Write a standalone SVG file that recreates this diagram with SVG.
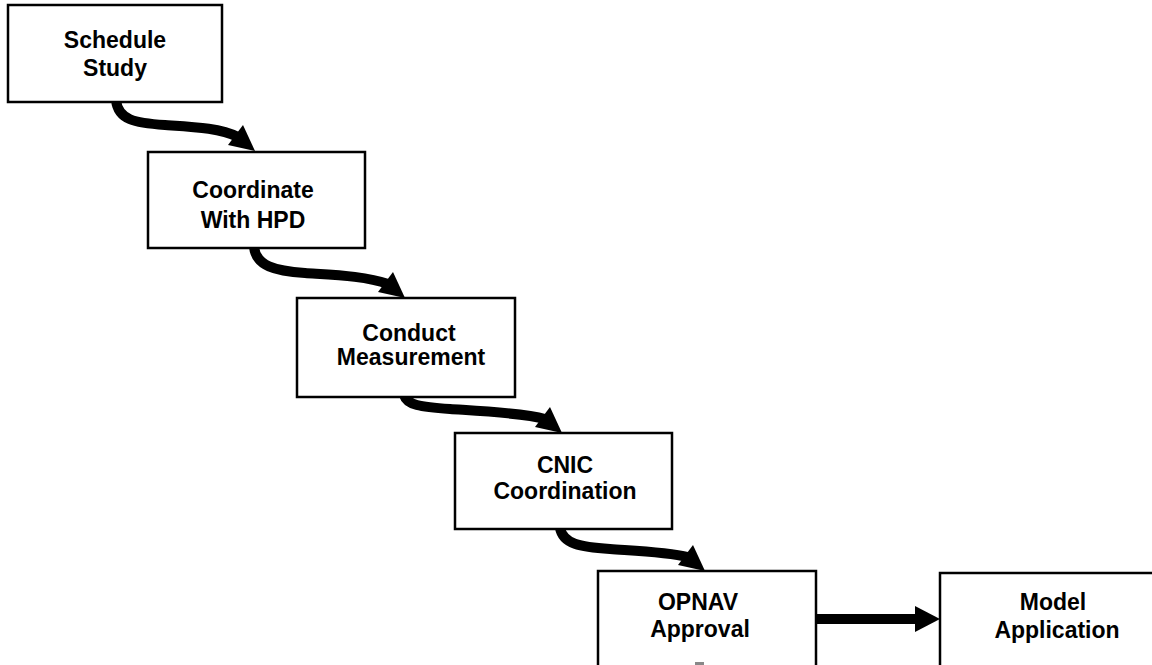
<svg xmlns="http://www.w3.org/2000/svg" xmlns:xlink="http://www.w3.org/1999/xlink" width="1152" height="665" viewBox="0 0 1152 665">
  <style>
    .box { fill: #ffffff; stroke: #000000; stroke-width: 2.5; }
    .lbl { font-family: "Liberation Sans", Arial, Helvetica, sans-serif; font-weight: bold; font-size: 23px; fill: #000000; text-anchor: middle; }
    .shaft { fill: none; stroke: #000000; stroke-width: 10; stroke-linecap: butt; }
    .head { fill: #000000; stroke: none; }
  </style>
  <defs>
    <path id="curvedHead" d="M0,0 L-12,-26 L-27,-6 Z"/>
  </defs>
  <rect x="0" y="0" width="1152" height="665" fill="#ffffff"/>

  <g id="connectors">
    <path class="shaft" d="M116,100 C118,120 135,123 165,125 S220,128 238,137"/>
    <use xlink:href="#curvedHead" class="head" transform="translate(255,151)"/>

    <path class="shaft" d="M254,247 C256,266 275,271 305,273 S366,276 388,284"/>
    <use xlink:href="#curvedHead" class="head" transform="translate(405,298)"/>

    <path class="shaft" d="M404,395 C407,405 420,407 450,409 S523,413 545,419"/>
    <use xlink:href="#curvedHead" class="head" transform="translate(562,433)"/>

    <path class="shaft" d="M560,528 C563,544 580,547 610,549 S668,552 688,557"/>
    <use xlink:href="#curvedHead" class="head" transform="translate(705,571)"/>

    <path class="shaft" d="M816,619 L918,619"/>
    <path class="head" d="M915,606 L940,619 L915,632 Z"/>
  </g>

  <g id="node-schedule-study">
    <rect class="box" x="8" y="5" width="214" height="97"/>
    <text class="lbl" x="115" y="48">Schedule</text>
    <text class="lbl" x="115" y="76">Study</text>
  </g>

  <g id="node-coordinate-hpd">
    <rect class="box" x="148" y="152" width="217" height="96"/>
    <text class="lbl" x="253" y="198">Coordinate</text>
    <text class="lbl" x="253" y="228">With HPD</text>
  </g>

  <g id="node-conduct-measurement">
    <rect class="box" x="297" y="298" width="218" height="99"/>
    <text class="lbl" x="409" y="341">Conduct</text>
    <text class="lbl" x="411" y="365">Measurement</text>
  </g>

  <g id="node-cnic-coordination">
    <rect class="box" x="455" y="433" width="217" height="96"/>
    <text class="lbl" x="565" y="473">CNIC</text>
    <text class="lbl" x="565" y="499">Coordination</text>
  </g>

  <g id="node-opnav-approval">
    <rect class="box" x="598" y="571" width="218" height="120"/>
    <text class="lbl" x="698" y="610">OPNAV</text>
    <text class="lbl" x="700" y="637">Approval</text>
    <rect x="695" y="662" width="9" height="3" fill="#888888"/>
  </g>

  <g id="node-model-application">
    <rect class="box" x="940" y="573" width="260" height="120"/>
    <text class="lbl" x="1053" y="610">Model</text>
    <text class="lbl" x="1057" y="638">Application</text>
  </g>
</svg>
